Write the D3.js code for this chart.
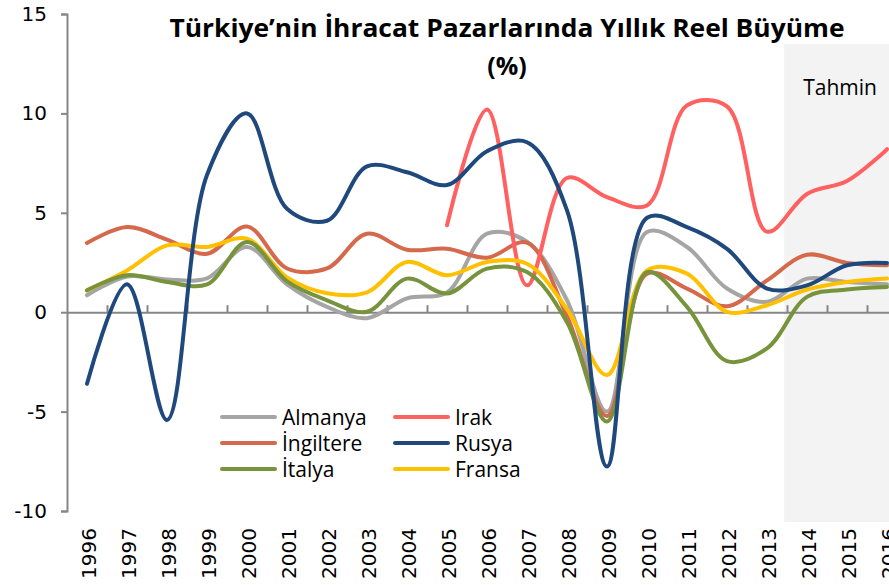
<!DOCTYPE html>
<html lang="tr">
    <head>
        <meta charset="utf-8">
        <title>Türkiye'nin İhracat Pazarlarında Yıllık Reel Büyüme</title>
        <script src="https://d3js.org/d3.v7.min.js"></script>
        <style type="text/css">
            body { margin: 0; background: #ffffff; }
            svg { display: block; overflow: hidden; }
            .tick-label { font-family: "DejaVu Sans", sans-serif; font-size: 20px; fill: #000; }
            .legend-label { font-family: "Open Sans", sans-serif; font-size: 21px; fill: #000; }
        </style>
    </head>
    <body>
        <script>
            // data
            var years = [1996, 1997, 1998, 1999, 2000, 2001, 2002, 2003, 2004, 2005, 2006,
                         2007, 2008, 2009, 2010, 2011, 2012, 2013, 2014, 2015, 2016];

            var almanya   = [0.85, 1.8, 1.65, 1.7, 3.28, 1.4, 0.27, -0.3, 0.7, 1.0, 3.95,
                             3.55, 0.6, -5.0, 4.03, 3.28, 1.19, 0.52, 1.69, 1.52, 1.4];
            var ingiltere = [3.48, 4.28, 3.65, 2.94, 4.31, 2.2, 2.2, 3.95, 3.14, 3.19, 2.74,
                             3.5, -0.2, -5.22, 1.94, 1.19, 0.3, 1.6, 2.89, 2.48, 2.36];
            var italya    = [1.1, 1.86, 1.52, 1.4, 3.53, 1.55, 0.6, 0.02, 1.69, 0.94, 2.19,
                             2.02, -0.5, -5.5, 2.02, 0.27, -2.46, -1.82, 0.77, 1.14, 1.27];
            var irak      = [null, null, null, null, null, null, null, null, null, 4.37, 10.2,
                             1.35, 6.75, 5.79, 5.37, 10.4, 10.35, 4.05, 5.95, 6.6, 8.2];
            var rusya     = [-3.6, 1.4, -5.42, 6.9, 10.0, 5.2, 4.6, 7.34, 7.04, 6.4, 8.1,
                             8.55, 5.12, -7.76, 4.75, 4.28, 3.19, 1.19, 1.35, 2.36, 2.48];
            var fransa    = [1.1, 2.1, 3.36, 3.28, 3.7, 1.75, 0.95, 1.0, 2.53, 1.86, 2.53,
                             2.44, 0.15, -3.16, 2.1, 1.94, 0.02, 0.35, 1.14, 1.52, 1.69];

            var seriesNames = ["Almanya", "İngiltere", "İtalya", "Irak", "Rusya", "Fransa"];
            var yTicks = [-10, -5, 0, 5, 10, 15];

            // forecast band ("Tahmin") starts a bit after 2013
            var forecastStart = 2013.43;
            var forecastLabel = "Tahmin";

            var titleLines = ["Türkiye’nin İhracat Pazarlarında Yıllık Reel Büyüme", "(%)"];

            // configuration code
            var outerWidth = 889;
            var outerHeight = 585;

            var plot = { left: 67, right: 907, top: 14, bottom: 511 };

            var colors = {
                "Almanya": "#a5a5a5",
                "İngiltere": "#d4694b",
                "İtalya": "#77933c",
                "Irak": "#ff6161",
                "Rusya": "#1f497d",
                "Fransa": "#ffc000"
            };

            var seriesValues = [almanya, ingiltere, italya, irak, rusya, fransa];

            // visualization code
            var svg = d3.select("body")
                .append("svg")
                .attr("width", outerWidth)
                .attr("height", outerHeight);

            var xScale = d3.scaleLinear()
                .domain([years[0] - 0.5, years[years.length - 1] + 0.5])
                .range([plot.left, plot.right]);

            var yScale = d3.scaleLinear()
                .domain([yTicks[0], yTicks[yTicks.length - 1]])
                .range([plot.bottom, plot.top]);

            // forecast shading
            svg.append("rect")
                .attr("x", xScale(forecastStart))
                .attr("y", yScale(13.5))
                .attr("width", plot.right - xScale(forecastStart))
                .attr("height", yScale(-10.55) - yScale(13.5))
                .attr("fill", "#f3f3f3");

            svg.append("text")
                .attr("class", "legend-label")
                .attr("x", xScale(forecastStart) + 19)
                .attr("y", 95)
                .text(forecastLabel);

            // y axis (plain hyphen for negatives, like the original)
            var yAxis = d3.axisLeft(yScale)
                .tickValues(yTicks)
                .tickSize(6)
                .tickPadding(14)
                .tickFormat(function(d) { return String(d); });

            var gy = svg.append("g")
                .attr("transform", "translate(" + plot.left + ",0)")
                .call(yAxis);
            gy.select(".domain").attr("stroke", "#868686").attr("stroke-width", 2);
            gy.selectAll(".tick line").attr("stroke", "#868686").attr("stroke-width", 2);
            gy.selectAll(".tick text").attr("class", "tick-label").attr("fill", "#000");

            // x axis sits on zero, ticks between categories pointing up
            var boundaries = years.map(function(y) { return y + 0.5; });

            var xAxis = d3.axisBottom(xScale)
                .tickValues(boundaries)
                .tickSizeInner(-7)
                .tickSizeOuter(0)
                .tickFormat("");

            var gx = svg.append("g")
                .attr("transform", "translate(0," + yScale(0) + ")")
                .call(xAxis);
            gx.select(".domain").attr("stroke", "#868686").attr("stroke-width", 2);
            gx.selectAll(".tick line").attr("stroke", "#868686").attr("stroke-width", 2);

            // year labels rotated
            svg.append("g").selectAll("text")
                .data(years)
                .enter()
                .append("text")
                .attr("class", "tick-label")
                .attr("text-anchor", "end")
                .attr("transform", function(d) {
                    return "translate(" + (xScale(d) + 2) + ",528) rotate(-90)";
                })
                .attr("dy", "0.35em")
                .text(function(d) { return d; });

            // lines
            var line = d3.line()
                .x(function(d) { return xScale(d.year); })
                .y(function(d) { return yScale(d.v); })
                .curve(d3.curveCatmullRom.alpha(0.5));

            var drawOrder = ["Almanya", "İngiltere", "Irak", "Fransa", "İtalya", "Rusya"];
            drawOrder.forEach(function(name) {
                var vals = seriesValues[seriesNames.indexOf(name)];
                var pts = years.map(function(y, i) { return { year: y, v: vals[i] }; })
                    .filter(function(d) { return d.v !== null; });
                svg.append("path")
                    .datum(pts)
                    .attr("fill", "none")
                    .attr("stroke", colors[name])
                    .attr("stroke-width", 4)
                    .attr("stroke-linecap", "round")
                    .attr("stroke-linejoin", "round")
                    .attr("d", line);
            });

            // legend, two columns of three
            var legend = svg.selectAll(".legend")
                .data(seriesNames)
                .enter()
                .append("g")
                .attr("class", "legend")
                .attr("transform", function(d, i) {
                    var col = Math.floor(i / 3), row = i % 3;
                    return "translate(" + (222 + col * 173) + "," + (417 + row * 26) + ")";
                });

            legend.append("line")
                .attr("x1", 0)
                .attr("x2", 53)
                .attr("stroke", function(d) { return colors[d]; })
                .attr("stroke-width", 4)
                .attr("stroke-linecap", "round");

            legend.append("text")
                .attr("class", "legend-label")
                .attr("x", 60)
                .attr("dy", "0.36em")
                .text(function(d) { return d; });

            // title
            svg.append("text")
                .attr("x", 507)
                .attr("y", 37)
                .attr("text-anchor", "middle")
                .attr("textLength", 675)
                .attr("lengthAdjust", "spacingAndGlyphs")
                .style("font-family", "'Open Sans', sans-serif")
                .style("font-weight", "bold")
                .style("font-size", "25px")
                .text(titleLines[0]);

            svg.append("text")
                .attr("x", 507)
                .attr("y", 75)
                .attr("text-anchor", "middle")
                .style("font-family", "'Open Sans', sans-serif")
                .style("font-weight", "bold")
                .style("font-size", "25px")
                .text(titleLines[1]);
        </script>
    </body>
</html>
